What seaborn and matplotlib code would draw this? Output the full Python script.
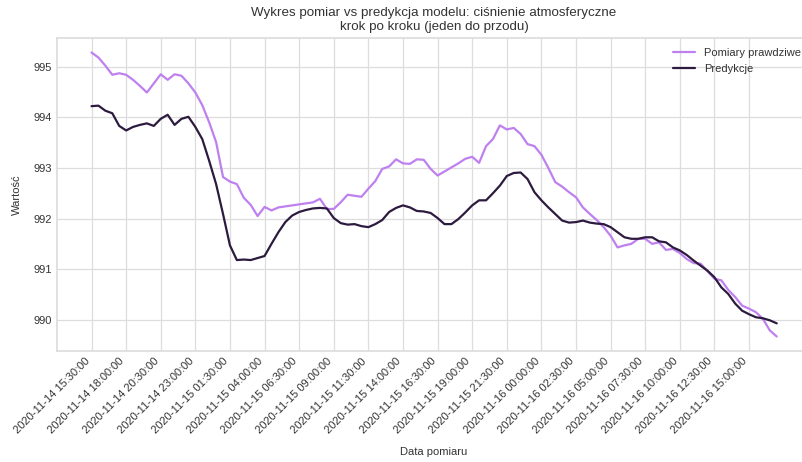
import numpy as np
import pandas as pd
import matplotlib
matplotlib.use("Agg")
import matplotlib.pyplot as plt
import matplotlib.dates as mdates
import seaborn as sns

# Half-hourly timestamps of the measurement window
start_time = "2020-11-14 15:30:00"
n_points = 100
freq = "30min"

# Measured atmospheric pressure [hPa]
pomiary = [
    995.28, 995.18, 995.02, 994.84, 994.87, 994.84, 994.74, 994.62, 994.49, 994.67,
    994.85, 994.74, 994.85, 994.82, 994.67, 994.49, 994.24, 993.90, 993.51, 992.82,
    992.73, 992.68, 992.41, 992.27, 992.05, 992.23, 992.16, 992.22, 992.24, 992.26,
    992.28, 992.30, 992.32, 992.39, 992.19, 992.19, 992.32, 992.47, 992.45, 992.43,
    992.59, 992.74, 992.98, 993.03, 993.17, 993.09, 993.08, 993.17, 993.16, 992.98,
    992.85, 992.93, 993.01, 993.09, 993.18, 993.22, 993.10, 993.43, 993.57, 993.84,
    993.76, 993.79, 993.67, 993.47, 993.43, 993.26, 993.00, 992.72, 992.63, 992.52,
    992.42, 992.22, 992.09, 991.97, 991.83, 991.66, 991.43, 991.47, 991.50, 991.60,
    991.60, 991.50, 991.53, 991.38, 991.40, 991.32, 991.20, 991.12, 991.11, 990.96,
    990.81, 990.78, 990.59, 990.45, 990.28, 990.22, 990.15, 990.02, 989.79, 989.67,
]

# One-step-ahead model predictions [hPa]
predykcje = [
    994.22, 994.23, 994.13, 994.08, 993.83, 993.74, 993.81, 993.85, 993.88, 993.83,
    993.97, 994.05, 993.85, 993.97, 994.01, 993.81, 993.57, 993.14, 992.68, 992.09,
    991.47, 991.18, 991.19, 991.18, 991.22, 991.26, 991.50, 991.73, 991.93, 992.06,
    992.13, 992.17, 992.20, 992.21, 992.20, 992.01, 991.91, 991.88, 991.89, 991.85,
    991.83, 991.89, 991.97, 992.13, 992.21, 992.26, 992.22, 992.15, 992.14, 992.11,
    992.01, 991.89, 991.89, 991.99, 992.12, 992.26, 992.36, 992.36, 992.50, 992.65,
    992.84, 992.90, 992.91, 992.78, 992.52, 992.36, 992.22, 992.09, 991.96, 991.92,
    991.93, 991.96, 991.92, 991.90, 991.89, 991.83, 991.73, 991.63, 991.60, 991.60,
    991.63, 991.63, 991.55, 991.53, 991.43, 991.37, 991.28, 991.17, 991.07, 990.97,
    990.84, 990.64, 990.51, 990.32, 990.18, 990.11, 990.05, 990.03, 989.99, 989.93,
]

series_names = ["Pomiary prawdziwe", "Predykcje"]
series_colors = ["#bf80ef", "#2d1b3f"]

daty = pd.date_range(start_time, periods=n_points, freq=freq)
df = pd.DataFrame({
    "Data pomiaru": np.concatenate([daty, daty]),
    "Wartość": pomiary + predykcje,
    "Seria": [series_names[0]] * n_points + [series_names[1]] * n_points,
})

sns.set_theme(style="whitegrid")
plt.rcParams["font.family"] = ["Liberation Sans", "DejaVu Sans"]
plt.rcParams["text.color"] = "#333333"
plt.rcParams["axes.labelcolor"] = "#333333"
plt.rcParams["xtick.color"] = "#333333"
plt.rcParams["ytick.color"] = "#333333"

fig = plt.figure(figsize=(8.02, 4.62), dpi=100)
ax = fig.add_axes([0.0714, 0.2409, 0.9398, 0.6762])

sns.lineplot(
    data=df, x="Data pomiaru", y="Wartość", hue="Seria",
    palette=series_colors, linewidth=1.6, ax=ax,
)

ax.margins(x=0.05, y=0.05)
tick_times = daty[::5]
ax.set_xticks(tick_times)
ax.xaxis.set_major_formatter(mdates.DateFormatter("%Y-%m-%d %H:%M:%S"))
plt.setp(ax.get_xticklabels(), rotation=45, ha="right", fontsize=8)
ax.set_yticks([990, 991, 992, 993, 994, 995])
ax.tick_params(axis="y", labelsize=8)
ax.tick_params(axis="both", length=0, pad=4)

ax.set_xlabel("Data pomiaru", fontsize=8, labelpad=8)
ax.set_ylabel("Wartość", fontsize=8, labelpad=8)
ax.set_title(
    "Wykres pomiar vs predykcja modelu: ciśnienie atmosferyczne\nkrok po kroku (jeden do przodu)",
    fontsize=9.6, pad=6,
)

for spine in ax.spines.values():
    spine.set_color("#dddddd")
ax.grid(color="#dddddd", linewidth=0.9)

leg = ax.legend(loc="upper right", frameon=False, fontsize=8, title=None)

fig.savefig("out.png", dpi=100)
